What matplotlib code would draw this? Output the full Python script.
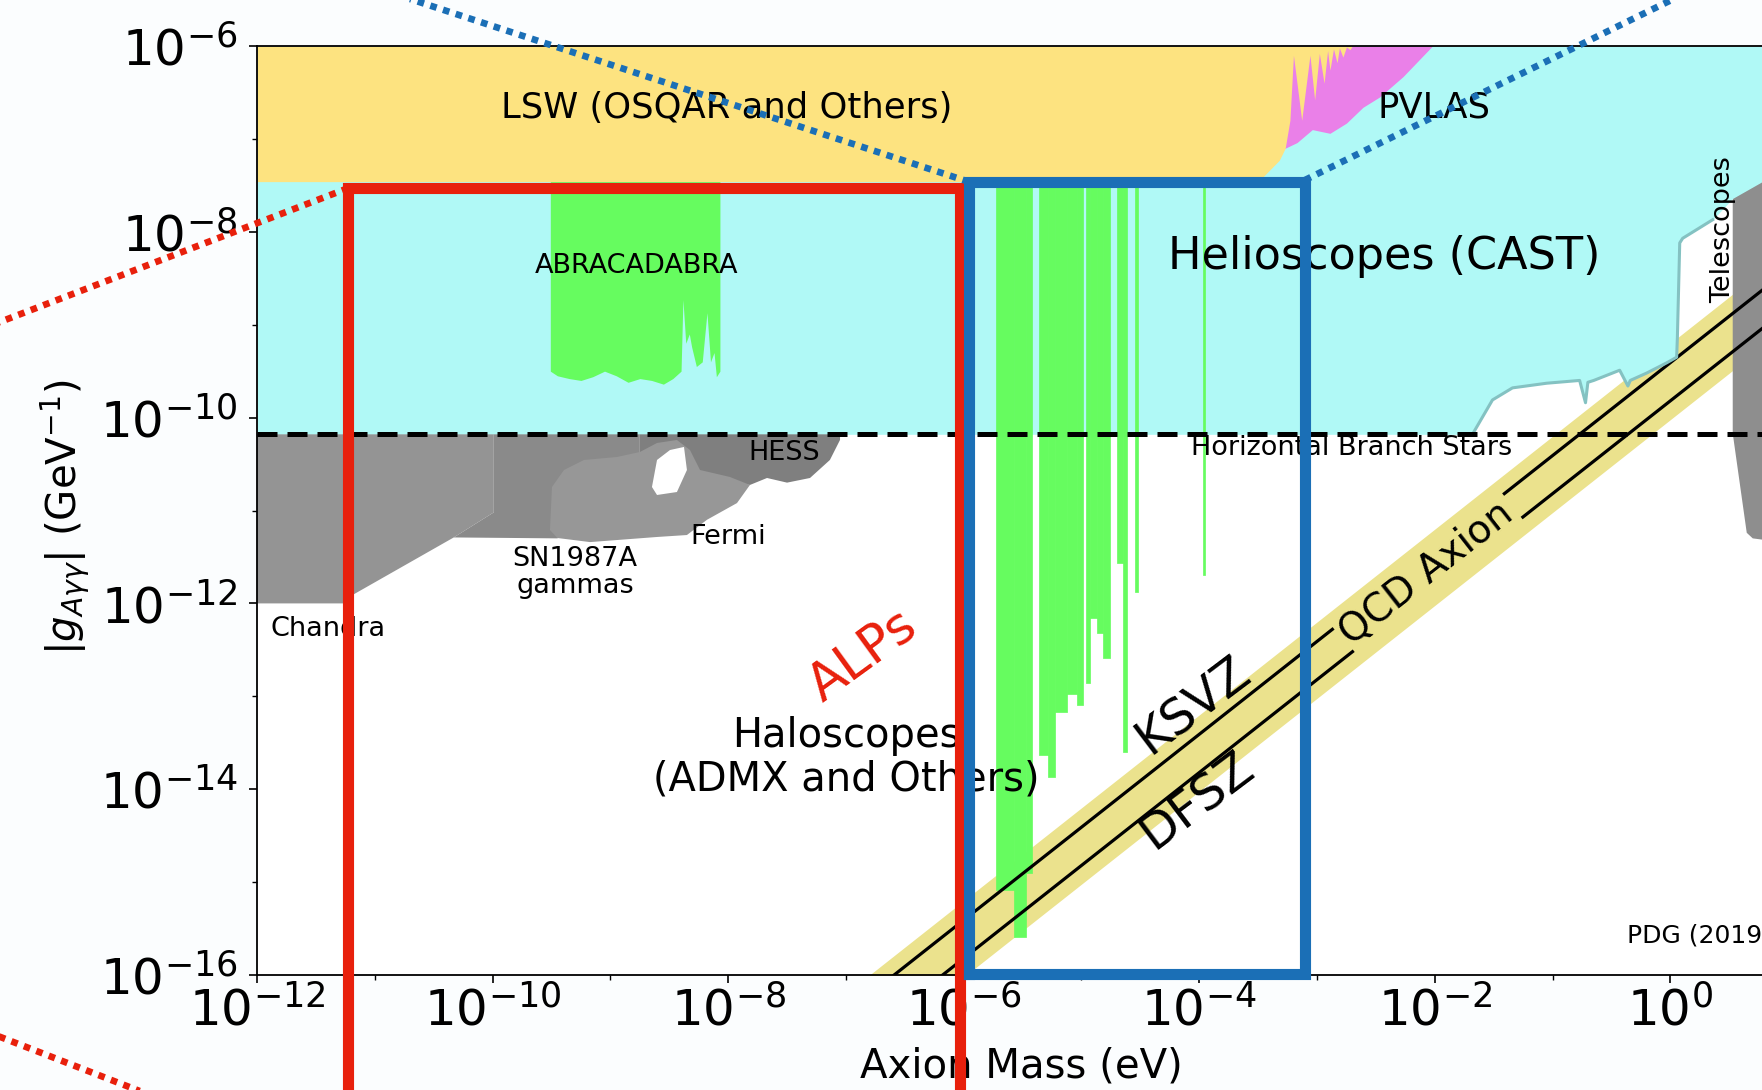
import numpy as np
import matplotlib
matplotlib.use("Agg")
import matplotlib.pyplot as plt
from matplotlib.ticker import NullFormatter

# exclusion limits, as log10(m / eV) and log10(g / GeV^-1)
lsw_m = [-12.0, -3.55, -3.46, -3.32, -3.27, -3.23, -3.20, -3.13, -3.06, -3.02, -2.98,
         -2.94, -2.91, -2.89, -2.86, -2.83, -2.81, -2.78, -2.75, -2.72, -2.70]
lsw_g = [-7.46, -7.46, -7.41, -7.23, -7.10, -6.80, -6.10, -6.80, -6.10, -6.58, -6.08,
         -6.40, -6.05, -6.26, -6.03, -6.18, -6.02, -6.12, -6.01, -6.04, -6.00]

pvlas_m = [-3.40, -3.27, -3.17, -3.04, -2.89, -2.75, -2.61, -2.47, -2.27, -2.02]
pvlas_g = [-7.15, -7.10, -7.04, -6.90, -6.94, -6.83, -6.66, -6.55, -6.33, -6.00]

cast_m = [-12.0, -1.68, -1.51, -1.34, -1.05, -0.77, -0.72, -0.70, -0.65, -0.43, -0.36,
          -0.34, -0.20, -0.03, 0.054, 0.06, 0.08, 0.105, 0.36, 0.53, 0.78, 1.0]
cast_g = [-10.18, -10.18, -9.81, -9.68, -9.63, -9.60, -9.84, -9.62, -9.60, -9.49, -9.66,
          -9.60, -9.52, -9.41, -9.35, -9.14, -8.12, -8.07, -7.87, -7.64, -7.46, -7.30]

telescope_m = [0.53, 1.0, 1.0, 0.70, 0.649, 0.53]
telescope_g = [-7.64, -7.30, -11.35, -11.30, -11.24, -10.17]

hb_g = 6.6e-11

abra_m = [-9.51, -9.45, -9.35, -9.25, -9.15, -9.05, -8.95, -8.85, -8.75, -8.65, -8.55, -8.47,
          -8.40, -8.384, -8.36, -8.33, -8.31, -8.27, -8.22, -8.18, -8.15, -8.12, -8.10, -8.07]
abra_g = [-9.50, -9.55, -9.58, -9.60, -9.56, -9.50, -9.55, -9.62, -9.58, -9.60, -9.64, -9.58,
          -9.50, -8.73, -9.20, -9.10, -9.24, -9.45, -9.40, -8.87, -9.40, -9.30, -9.56, -9.50]

# haloscope (ADMX and others) pieces: mass from, mass to, lower edge of exclusion
halo_m_lo = [-5.727, -5.574, -5.472, -5.362, -5.285, -5.226, -5.124, -5.039, -4.963,
             -4.929, -4.869, -4.818, -4.700, -4.649, -4.547, -3.970]
halo_m_hi = [-5.574, -5.472, -5.421, -5.285, -5.226, -5.124, -5.039, -4.988, -4.929,
             -4.869, -4.818, -4.759, -4.649, -4.615, -4.521, -3.953]
halo_g_lo = [-15.09, -15.59, -14.90, -13.63, -13.87, -13.17, -12.97, -13.09, -12.86,
             -12.16, -12.32, -12.59, -11.57, -13.60, -11.88, -11.69]
halo_g_top = -7.46

chandra_m = [-12.0, -9.99, -9.99, -10.33, -11.19, -11.19, -12.0]
chandra_g = [-10.18, -10.18, -11.02, -11.29, -11.91, -12.0, -12.0]

sn1987a_m = [-10.33, -9.99, -9.99, -8.75, -8.75, -9.45]
sn1987a_g = [-11.29, -11.02, -10.18, -10.18, -10.60, -11.30]

hess_m = [-8.75, -7.05, -7.05, -7.136, -7.305, -7.50, -7.67, -7.815, -8.0, -8.75]
hess_g = [-10.18, -10.18, -10.24, -10.456, -10.65, -10.70, -10.65, -10.725, -10.70, -10.60]

fermi_m = [-9.513, -9.496, -9.394, -9.224, -8.944, -8.749, -8.604, -8.435, -8.324, -8.239,
           -7.985, -7.815, -7.925, -8.18, -8.35, -8.604, -9.173, -9.45]
fermi_g = [-11.21, -10.747, -10.564, -10.456, -10.424, -10.370, -10.273, -10.241, -10.349,
           -10.564, -10.639, -10.725, -10.92, -11.10, -11.264, -11.285, -11.34, -11.296]

fermi_hole_m = [-8.647, -8.604, -8.494, -8.375, -8.35, -8.435, -8.604]
fermi_hole_g = [-10.747, -10.456, -10.349, -10.316, -10.564, -10.801, -10.833]

# QCD axion band and model lines (linear in m)
band_m = [1e-8, 1e1]
band_upper = [6.3e-18, 6.3e-9]
band_lower = [9.5e-19, 9.5e-10]
ksvz_m = [1e-8, 1.35e-3, 3.9e-2, 1e1]
ksvz_g = [3.9e-18, 5.26e-13, 1.52e-11, 3.9e-9]
dfsz_m = [1e-8, 2.0e-3, 5.6e-2, 1e1]
dfsz_g = [1.51e-18, 3.02e-13, 8.5e-12, 1.51e-9]

# boxes and zoom lines drawn over the plot
alps_box_m = [5.93e-12, 9.29e-7]
alps_box_g = [1e-18, 2.95e-8]
qcd_box_m = [1.107e-6, 7.87e-4]
qcd_box_g = [1.02e-16, 3.45e-8]
red_zoom_upper = ([5.93e-12, 3.7e-15], [2.95e-8, 8.1e-10])
red_zoom_lower = ([4.5e-15, 5.93e-12], [2.6e-17, 7.6e-19])
blue_zoom_left = ([1.107e-6, 6.5e-12], [3.45e-8, 5.1e-6])
blue_zoom_right = ([7.87e-4, 2.24], [3.6e-8, 5.1e-6])

major_x = [1e-12, 1e-10, 1e-8, 1e-6, 1e-4, 1e-2, 1e0]
minor_x = [1e-11, 1e-9, 1e-7, 1e-5, 1e-3, 1e-1, 1e1]
major_y = [1e-16, 1e-14, 1e-12, 1e-10, 1e-8, 1e-6]
minor_y = [1e-15, 1e-13, 1e-11, 1e-9, 1e-7]


def p(v):
    return 10.0 ** np.array(v)


fig = plt.figure(figsize=(17.62, 10.90), dpi=100, facecolor="#fbfdfe")
ax = fig.add_axes([0.1459, 0.1055, 0.8689, 0.8523])
ax.set_xscale("log")
ax.set_yscale("log")
ax.set_xlim(1e-12, 1e1)
ax.set_ylim(1e-16, 1e-6)

yellow = "#fde380"
cyan = "#b0f9f6"
green = "#66fc5f"

ax.fill_between(band_m, band_lower, band_upper, color="#ebe28d", lw=0, zorder=1)
ax.fill(p(telescope_m), p(telescope_g), color="#8e8e8e", lw=0, zorder=1.2)
ax.plot(ksvz_m[2:], ksvz_g[2:], color="black", lw=2.3, zorder=1.5)
ax.plot(dfsz_m[2:], dfsz_g[2:], color="black", lw=2.3, zorder=1.5)

ax.fill_between(p(cast_m), p(cast_g), 1e-6, color=cyan, lw=0, zorder=2)
ax.plot(p(cast_m[1:19]), p(cast_g[1:19]), color="#84c2c2", lw=2.2, zorder=2.05)
ax.fill_between(p(pvlas_m), p(pvlas_g), 1e-6, color="#ea80e8", lw=0, zorder=2.1)
ax.fill_between(p(lsw_m), p(lsw_g), 1e-6, color=yellow, lw=0, zorder=2.2)

ax.fill_between(p(abra_m), p(abra_g), 10 ** halo_g_top, color=green, lw=0, zorder=2.3)
for lo, hi, gl in zip(halo_m_lo, halo_m_hi, halo_g_lo):
    ax.fill_between(p([lo, hi]), 10 ** gl, 10 ** halo_g_top, color=green,
                    lw=0.5, edgecolor=green, zorder=2.3)

ax.fill(p(chandra_m), p(chandra_g), color="#949494", lw=0, zorder=2.3)
ax.fill(p(sn1987a_m), p(sn1987a_g), color="#8a8a8a", lw=0, zorder=2.3)
ax.fill(p(hess_m), p(hess_g), color="#7f7f7f", lw=0, zorder=2.3)
ax.fill(p(fermi_m), p(fermi_g), color="#979797", lw=0, zorder=2.35)
ax.fill(p(fermi_hole_m), p(fermi_hole_g), color="white", lw=0, zorder=2.4)

ax.plot(ksvz_m[:2], ksvz_g[:2], color="black", lw=2.3, zorder=2.5)
ax.plot(dfsz_m[:2], dfsz_g[:2], color="black", lw=2.3, zorder=2.5)
ax.axhline(hb_g, color="black", lw=3.6, ls=(0, (4, 2)), zorder=3)

# labels of the regions
small = 19.5
ax.text(10 ** -8.01, 10 ** -6.667, "LSW (OSQAR and Others)", fontsize=25.5, ha="center", va="center", zorder=4)
ax.text(10 ** -2.01, 10 ** -6.667, "PVLAS", fontsize=25.5, ha="center", va="center", zorder=4)
ax.text(10 ** -2.43, 10 ** -8.27, "Helioscopes (CAST)", fontsize=32, ha="center", va="center", zorder=4)
ax.text(10 ** -8.774, 10 ** -8.368, "ABRACADABRA", fontsize=small, ha="center", va="center", zorder=4)
ax.text(10 ** -7.526, 10 ** -10.381, "HESS", fontsize=small, ha="center", va="center", zorder=4)
ax.text(10 ** -8.0, 10 ** -11.285, "Fermi", fontsize=small, ha="center", va="center", zorder=4)
ax.text(10 ** -9.30, 10 ** -11.67, "SN1987A\ngammas", fontsize=small, ha="center", va="center",
        linespacing=1.05, zorder=4)
ax.text(10 ** -11.397, 10 ** -12.276, "Chandra", fontsize=small, ha="center", va="center", zorder=4)
ax.text(10 ** -2.705, 10 ** -10.327, "Horizontal Branch Stars", fontsize=small, ha="center",
        va="center", zorder=4)
ax.text(10 ** -7.0, 10 ** -13.66, "Haloscopes\n(ADMX and Others)", fontsize=28.8, ha="center",
        va="center", linespacing=1.1, zorder=4)
ax.text(10 ** -4.054, 10 ** -13.10, "KSVZ", fontsize=35, rotation=37, ha="center", va="center",
        rotation_mode="anchor", zorder=4)
ax.text(10 ** -4.02, 10 ** -14.12, "DFSZ", fontsize=35, rotation=37, ha="center", va="center",
        rotation_mode="anchor", zorder=4)
ax.text(10 ** -2.07, 10 ** -11.68, "QCD Axion", fontsize=28, rotation=38, ha="center", va="center",
        rotation_mode="anchor", zorder=4)
ax.text(10 ** 0.445, 10 ** -7.98, "Telescopes", fontsize=small, rotation=90, ha="center",
        va="center", zorder=4)
ax.text(10 ** -0.37, 10 ** -15.57, "PDG (2019)", fontsize=18, ha="left", va="center", zorder=4)
ax.text(10 ** -6.86, 10 ** -12.56, "ALPs", fontsize=37, rotation=36, color="#e8200c", ha="center",
        va="center", rotation_mode="anchor", zorder=4)

ax.text(0.499, -0.098, "Axion Mass (eV)", fontsize=29, ha="center", va="center",
        transform=ax.transAxes, clip_on=False, zorder=4)
ax.text(-0.126, 0.493, r"$|g_{A\gamma\gamma}|$ (GeV$^{-1}$)", fontsize=29, rotation=90,
        ha="center", va="center", transform=ax.transAxes, clip_on=False, zorder=4)

ax.set_xticks(major_x)
ax.set_xticks(minor_x, minor=True)
ax.set_yticks(major_y)
ax.set_yticks(minor_y, minor=True)
ax.xaxis.set_minor_formatter(NullFormatter())
ax.yaxis.set_minor_formatter(NullFormatter())
ax.tick_params(which="major", labelsize=36, length=6, width=1.2)
ax.tick_params(which="minor", length=3.5, width=1.0)
ax.tick_params(axis="x", which="major", pad=2)
ax.tick_params(axis="y", which="major", pad=8)
for s in ax.spines.values():
    s.set_linewidth(1.3)

# highlight boxes and zoom lines on top of everything
red = "#e8200c"
blue = "#1b6fb6"
x0, x1 = alps_box_m
yb, yt = alps_box_g
ax.plot([x0, x0, x1, x1], [yb, yt, yt, yb], color=red, lw=8, solid_joinstyle="miter",
        clip_on=False, zorder=6)
x0, x1 = qcd_box_m
yb, yt = qcd_box_g
ax.plot([x0, x0, x1, x1, x0], [yb, yt, yt, yb, yb], color=blue, lw=8,
        solid_joinstyle="miter", clip_on=False, zorder=6)
for (xs, ys), c in [(red_zoom_upper, red), (red_zoom_lower, red),
                    (blue_zoom_left, blue), (blue_zoom_right, blue)]:
    ax.plot(xs, ys, color=c, lw=4.8, ls=(0, (1, 1)), clip_on=False, zorder=6)

fig.savefig("out.png", dpi=100, facecolor=fig.get_facecolor())
